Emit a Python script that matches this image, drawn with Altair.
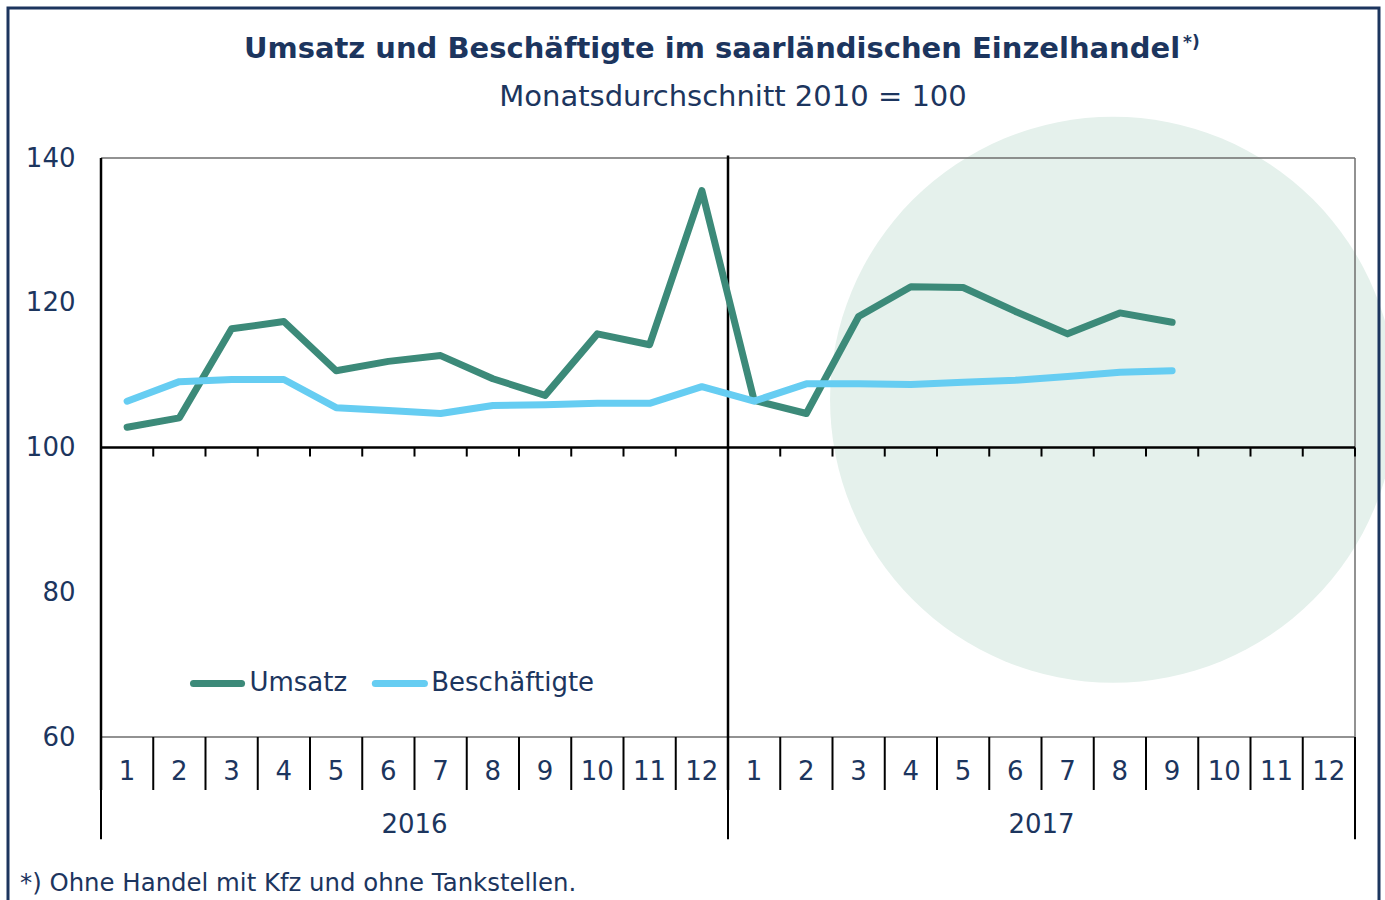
import altair as alt
import pandas as pd

# ---------------- data ----------------
month_labels = [str(m) for m in range(1, 13)] * 2
year_labels = ["2016", "2017"]
umsatz = [102.8, 104.1, 116.4, 117.4, 110.6, 111.9, 112.7, 109.5, 107.2, 115.7, 114.2, 135.5,
          106.5, 104.7, 118.1, 122.2, 122.1, 118.8, 115.7, 118.6, 117.3]
beschaeftigte = [106.4, 109.1, 109.4, 109.4, 105.5, 105.1, 104.7, 105.8, 105.9, 106.1, 106.1, 108.4,
                 106.4, 108.8, 108.8, 108.7, 109.0, 109.3, 109.8, 110.4, 110.6]
series_names = ["Umsatz", "Beschäftigte"]
series_colors = ["#3c8a79", "#66cdf2"]
y_ticks = [60, 80, 100, 120, 140]

NAVY = "#1c355e"
GREY = "#6e6e6e"
FONT = "DejaVu Sans"
FS = 26

n = len(umsatz)
lines_df = pd.DataFrame({
    "pos": [i + 0.5 for i in range(n)] * 2,
    "value": umsatz + beschaeftigte,
    "series": ["Umsatz"] * n + ["Beschäftigte"] * n,
})
months_df = pd.DataFrame({"pos": [i + 0.5 for i in range(len(month_labels))], "label": month_labels})
years_df = pd.DataFrame({"pos": [6, 18], "label": year_labels})
bounds_df = pd.DataFrame({"b": list(range(25))})
year_bounds_df = pd.DataFrame({"b": [0, 12, 24]})
legend_df = pd.DataFrame({
    "series": series_names,
    "x1": [1.77, 5.25],
    "x2": [2.69, 6.19],
    "tx": [2.84, 6.32],
})
one = pd.DataFrame({"a": [0]})

xs = alt.Scale(domain=[0, 24], nice=False, zero=False)
ys = alt.Scale(domain=[60, 140], nice=False, zero=False)
cs = alt.Scale(domain=series_names, range=series_colors)
y_axis = alt.Axis(values=y_ticks, title=None, domain=False, ticks=False, grid=False,
                  labelFont=FONT, labelFontSize=FS, labelColor=NAVY, labelPadding=26)


def Yd(v):
    return alt.Y(datum=v, type="quantitative", scale=ys, axis=y_axis)


def Xd(v):
    return alt.X(datum=v, type="quantitative", scale=xs, axis=None)


# background circle
circle = alt.Chart(one).mark_circle(size=320400, color="#e5f1ec", opacity=1).encode(
    x=Xd(19.37), y=Yd(106.6))

# grey plot-area border (drawn above the circle)
border_top = alt.Chart(one).mark_rule(color=GREY, strokeWidth=1.5).encode(
    x=Xd(0), x2=alt.X2(datum=24), y=Yd(140))
border_bottom = alt.Chart(one).mark_rule(color=GREY, strokeWidth=1.5).encode(
    x=Xd(0), x2=alt.X2(datum=24), y=Yd(60))
border_right = alt.Chart(one).mark_rule(color=GREY, strokeWidth=1.5).encode(
    x=Xd(24), y=Yd(140), y2=alt.Y2(datum=60))

# horizontal axis line at 100
h100 = alt.Chart(one).mark_rule(color="black", strokeWidth=2.5).encode(
    x=Xd(0), x2=alt.X2(datum=24), y=Yd(100))
ticks100 = alt.Chart(bounds_df).mark_rule(color="black", strokeWidth=2).encode(
    x=alt.X("b:Q", scale=xs, axis=None), y=Yd(100), y2=alt.Y2(datum=98.75))
# category separators
seps = alt.Chart(bounds_df).mark_rule(color="black", strokeWidth=2).encode(
    x=alt.X("b:Q", scale=xs, axis=None), y=Yd(60), y2=alt.Y2(datum=52.68))
year_seps = alt.Chart(year_bounds_df).mark_rule(color="black", strokeWidth=2).encode(
    x=alt.X("b:Q", scale=xs, axis=None), y=Yd(52.68), y2=alt.Y2(datum=45.86))
left_axis = alt.Chart(one).mark_rule(color="black", strokeWidth=2.5).encode(
    x=Xd(0), y=Yd(140), y2=alt.Y2(datum=52.68))
mid_axis = alt.Chart(one).mark_rule(color="black", strokeWidth=2.5).encode(
    x=Xd(12), y=Yd(140.35), y2=alt.Y2(datum=52.68))

lines = alt.Chart(lines_df).mark_line(strokeWidth=7, strokeCap="round", strokeJoin="round").encode(
    x=alt.X("pos:Q", scale=xs, axis=None),
    y=alt.Y("value:Q", scale=ys, axis=y_axis),
    color=alt.Color("series:N", scale=cs, legend=None),
)

month_text = alt.Chart(months_df).mark_text(font=FONT, fontSize=FS, color=NAVY, baseline="middle").encode(
    x=alt.X("pos:Q", scale=xs, axis=None), y=Yd(55.17), text="label:N")
year_text = alt.Chart(years_df).mark_text(font=FONT, fontSize=FS, color=NAVY, baseline="middle").encode(
    x=alt.X("pos:Q", scale=xs, axis=None), y=Yd(47.85), text="label:N")

legend_lines = alt.Chart(legend_df).mark_rule(strokeWidth=7, strokeCap="round").encode(
    x=alt.X("x1:Q", scale=xs, axis=None), x2="x2:Q", y=Yd(67.4),
    color=alt.Color("series:N", scale=cs, legend=None),
)
legend_text = alt.Chart(legend_df).mark_text(font=FONT, fontSize=FS, color=NAVY, align="left",
                                             baseline="middle").encode(
    x=alt.X("tx:Q", scale=xs, axis=None), y=Yd(67.4), text="series:N")

title = alt.Chart(one).mark_text(text="Umsatz und Beschäftigte im saarländischen Einzelhandel",
                                 font=FONT, fontSize=29, fontWeight="bold", color=NAVY,
                                 align="center", baseline="middle").encode(
    x=alt.value(611), y=alt.value(-109))
title_sup = alt.Chart(one).mark_text(text="*)", font=FONT, fontSize=17, fontWeight="bold", color=NAVY,
                                     align="left", baseline="middle").encode(
    x=alt.value(1082), y=alt.value(-115))
subtitle = alt.Chart(one).mark_text(text="Monatsdurchschnitt 2010 = 100", font=FONT, fontSize=29,
                                    color=NAVY, align="center", baseline="middle").encode(
    x=alt.value(632), y=alt.value(-61))
footnote = alt.Chart(one).mark_text(text="*) Ohne Handel mit Kfz und ohne Tankstellen.", font=FONT,
                                    fontSize=24.4, color=NAVY, align="left", baseline="middle").encode(
    x=alt.value(-81), y=alt.value(726))
frame = alt.Chart(one).mark_rect(fillOpacity=0, stroke=NAVY, strokeWidth=3).encode(
    x=alt.value(-93), x2=alt.value(1278), y=alt.value(-150), y2=alt.value(770))

chart = alt.layer(
    circle, border_top, border_bottom, border_right,
    h100, ticks100, seps, year_seps, left_axis, mid_axis, lines,
    month_text, year_text, legend_lines, legend_text,
    title, title_sup, subtitle, footnote, frame,
).properties(
    width=1254, height=579,
    autosize=alt.AutoSizeParams(type="none"),
    padding={"left": 101, "top": 158, "right": 30, "bottom": 163},
    background="white",
).configure_view(stroke="transparent", strokeWidth=0)

chart.save("out.html", embed_options={"renderer": "svg", "actions": False})
